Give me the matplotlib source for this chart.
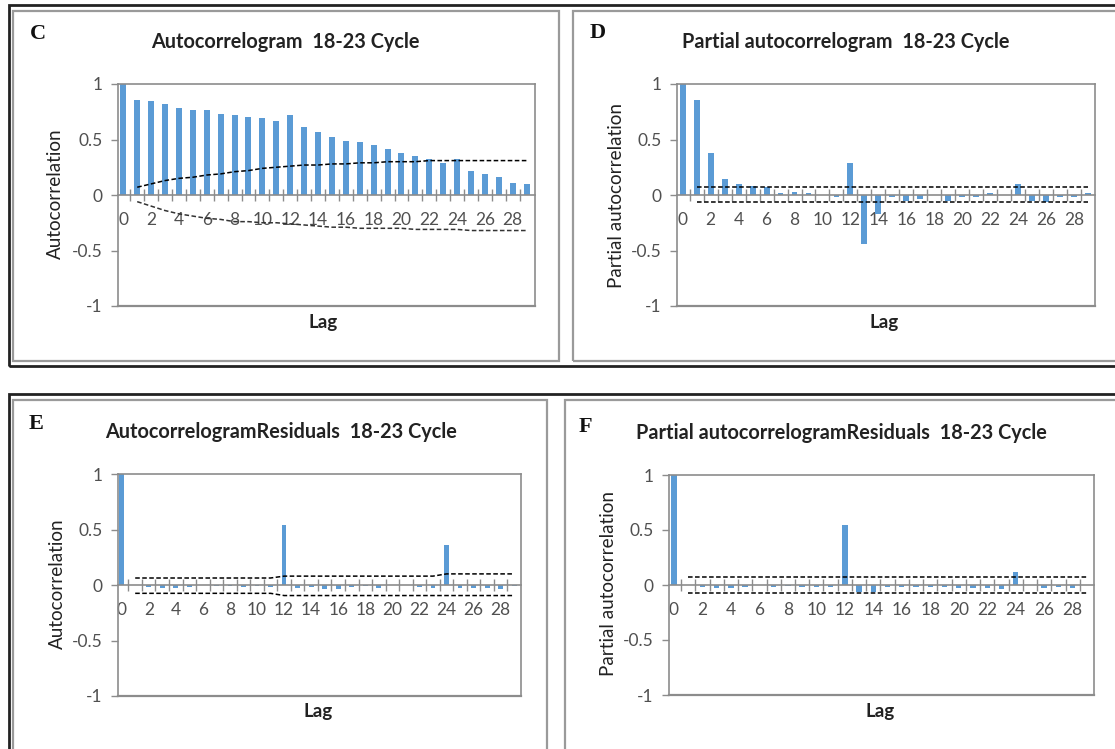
import matplotlib.pyplot as plt
from matplotlib.patches import Rectangle
from matplotlib.ticker import FixedLocator

plt.rcParams['font.family'] = ['Lato', 'DejaVu Sans']

W, H = 1115, 749

lags = list(range(30))

# C: autocorrelogram
acf = [1.0, 0.86, 0.85, 0.82, 0.78, 0.77, 0.77, 0.73, 0.72, 0.70,
       0.69, 0.67, 0.72, 0.61, 0.57, 0.52, 0.49, 0.48, 0.45, 0.41,
       0.38, 0.35, 0.32, 0.29, 0.32, 0.22, 0.19, 0.16, 0.11, 0.10]
acf_upper = [0.07, 0.10, 0.13, 0.15, 0.16, 0.18, 0.19, 0.21, 0.22, 0.24,
             0.25, 0.26, 0.27, 0.27, 0.28, 0.28, 0.29, 0.29, 0.30, 0.30,
             0.30, 0.31, 0.31, 0.31, 0.31, 0.31, 0.31, 0.31, 0.31]
acf_lower = [-0.06, -0.10, -0.14, -0.17, -0.19, -0.21, -0.22, -0.24, -0.24, -0.25,
             -0.25, -0.26, -0.27, -0.28, -0.29, -0.29, -0.30, -0.30, -0.30, -0.30,
             -0.31, -0.31, -0.31, -0.31, -0.32, -0.32, -0.32, -0.32, -0.32]

# D: partial autocorrelogram
pacf = [1.0, 0.86, 0.38, 0.14, 0.10, 0.08, 0.07, 0.02, 0.03, 0.02,
        0.0, -0.02, 0.29, -0.44, -0.17, -0.02, -0.05, -0.04, 0.0, -0.05,
        -0.02, -0.02, 0.015, 0.0, 0.10, -0.05, -0.06, -0.02, -0.02, 0.02]
pacf_upper = [0.075] * 29
pacf_lower = [-0.065] * 29

# E: autocorrelogram of residuals
res_acf = [1.0, 0.0, -0.02, -0.03, -0.03, -0.02, 0.0, -0.01, -0.01, -0.02,
           -0.01, -0.02, 0.54, -0.03, -0.02, -0.04, -0.04, -0.02, -0.01, -0.03,
           0.0, 0.0, -0.02, -0.03, 0.36, -0.03, -0.03, -0.03, -0.04, -0.01]
res_acf_upper = [0.063] * 11 + [0.08] * 12 + [0.10] * 6
res_acf_lower = [-0.075] * 11 + [-0.095] * 18

# F: partial autocorrelogram of residuals
res_pacf = [1.0, 0.0, -0.02, -0.03, -0.03, -0.02, 0.0, -0.02, -0.01, -0.02,
            -0.02, -0.02, 0.55, -0.06, -0.06, -0.02, -0.02, -0.02, -0.02, -0.02,
            -0.03, -0.03, -0.03, -0.04, 0.12, 0.0, -0.03, -0.02, -0.03, 0.0]
res_pacf_upper = [0.075] * 29
res_pacf_lower = [-0.075] * 29

BLUE = '#5B9BD5'
GRAY = '#8c8c8c'
TXT = '#505050'


def fx(x):
    return x / W


def fy(y):
    return 1 - y / H


def frame(fig, x0, y0, x1, y1, color, lw):
    fig.add_artist(Rectangle((fx(x0), fy(y1)), fx(x1) - fx(x0), fy(y0) - fy(y1),
                             transform=fig.transFigure, fill=False,
                             edgecolor=color, linewidth=lw, clip_on=False))


def panel(fig, box, xlim, values, upper, lower, width, letter, title,
          ylabel, letter_xy, title_xy, ylabel_xy, lag_xy, lower_color='black'):
    left, top, right, bottom = box
    ax = fig.add_axes([fx(left), fy(bottom), fx(right) - fx(left), fy(top) - fy(bottom)])
    ax.bar(lags, values, width=width, color=BLUE, zorder=2)
    ax.plot(lags[1:], upper, color='black', lw=1.1, ls=(0, (3, 1.6)), zorder=3)
    ax.plot(lags[1:], lower, color=lower_color, lw=1.1, ls=(0, (3, 1.6)), zorder=3)
    ax.set_xlim(*xlim)
    ax.set_ylim(-1, 1)

    for s in ['top', 'right', 'left']:
        ax.spines[s].set_color(GRAY)
        ax.spines[s].set_linewidth(1.2)
    ax.spines['bottom'].set_position(('data', 0))
    ax.spines['bottom'].set_color(GRAY)
    ax.spines['bottom'].set_linewidth(1.2)
    ax.plot([0, 1], [0, 0], transform=ax.transAxes, color=GRAY, lw=1.6,
            clip_on=False)

    ax.set_yticks([-1, -0.5, 0, 0.5, 1])
    ax.set_yticklabels(['-1', '-0.5', '0', '0.5', '1'])
    ax.tick_params(axis='y', direction='out', length=5, width=1, color=GRAY,
                   labelsize=12.5, labelcolor=TXT, pad=6)
    ax.xaxis.set_major_locator(FixedLocator(list(range(0, 30, 2))))
    ax.xaxis.set_minor_locator(FixedLocator([l + 0.5 for l in lags[:-1]]))
    ax.tick_params(axis='x', which='major', length=0, labelsize=12.5,
                   labelcolor=TXT, pad=12)
    ax.tick_params(axis='x', which='minor', direction='inout', length=9,
                   width=1, color=GRAY)

    fig.text(fx(letter_xy[0]), fy(letter_xy[1]), letter, family='Liberation Serif',
             fontweight='bold', fontsize=16, ha='left', va='center', color='#111111')
    fig.text(fx(title_xy[0]), fy(title_xy[1]), title, fontsize=14.3,
             fontweight='bold', ha='center', va='center', color='#222222')
    fig.text(fx(ylabel_xy[0]), fy(ylabel_xy[1]), ylabel, fontsize=13.6,
             rotation=90, ha='center', va='center', color='#222222')
    fig.text(fx(lag_xy[0]), fy(lag_xy[1]), 'Lag', fontsize=13.5,
             fontweight='bold', ha='center', va='center', color='#222222')
    return ax


fig = plt.figure(figsize=(W / 100, H / 100), dpi=100)

# outer frames and panel boxes
frame(fig, 9, 4.5, 1130, 366, '#222222', 2.0)
frame(fig, 12.5, 11, 559, 361, '#9a9a9a', 1.6)
frame(fig, 573, 11, 1130, 361, '#9a9a9a', 1.6)
frame(fig, 9, 394, 1130, 760, '#222222', 2.0)
frame(fig, 13, 400, 547, 760, '#9a9a9a', 1.6)
frame(fig, 565, 400, 1130, 760, '#9a9a9a', 1.6)

panel(fig, (118, 84, 535, 306), (-0.38, 29.6), acf, acf_upper, acf_lower, 0.43,
      'C', 'Autocorrelogram  18-23 Cycle', 'Autocorrelation',
      (30, 34), (285, 42), (55, 194), (323, 322), lower_color='#333333')
panel(fig, (677, 84, 1095, 306), (-0.41, 29.5), pacf, pacf_upper, pacf_lower, 0.42,
      'D', 'Partial autocorrelogram  18-23 Cycle', 'Partial autocorrelation',
      (590, 33), (846, 42), (617, 195), (884, 322))
panel(fig, (118, 474, 521, 696), (-0.27, 29.5), res_acf, res_acf_upper, res_acf_lower, 0.35,
      'E', 'AutocorrelogramResiduals  18-23 Cycle', 'Autocorrelation',
      (29, 424), (281, 432), (57, 584), (318, 712))
panel(fig, (669, 475, 1094, 695), (-0.35, 29.5), res_pacf, res_pacf_upper, res_pacf_lower, 0.38,
      'F', 'Partial autocorrelogramResiduals  18-23 Cycle', 'Partial autocorrelation',
      (579, 427), (841, 433), (608, 584), (880, 711))

fig.savefig('out.png', dpi=100)
